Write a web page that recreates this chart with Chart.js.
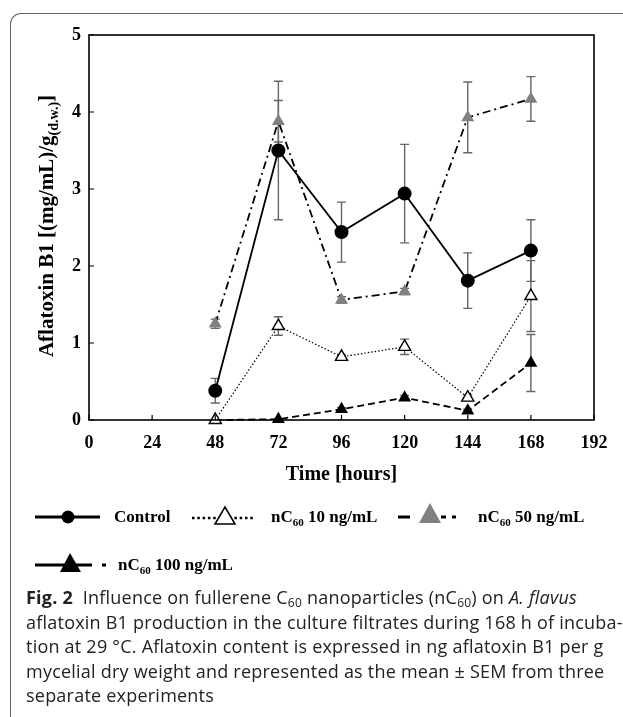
<!DOCTYPE html>
<html>
<head>
<meta charset="utf-8">
<script src="https://cdn.jsdelivr.net/npm/chart.js@4.4.1/dist/chart.umd.min.js"></script>
<style>
  html,body{margin:0;padding:0;background:#fff;width:623px;height:717px;overflow:hidden;position:relative;}
  #frame{position:absolute;left:10px;top:13px;width:700px;height:800px;border-top:1.3px solid #666;border-left:1.3px solid #666;border-top-left-radius:11px;}
  #wrap{position:absolute;left:0;top:0;width:623px;height:500px;}
  .leg{position:absolute;font-family:"Liberation Serif",serif;font-weight:bold;font-size:17px;color:#000;white-space:nowrap;line-height:1;}
  .leg sub{font-size:11px;vertical-align:-4px;line-height:0;}
  #legsvg{position:absolute;left:0;top:0;}
  #cap{position:absolute;left:26px;top:585px;font-family:"Open Sans",sans-serif;font-size:18px;line-height:24.5px;color:#222;white-space:nowrap;}
  #cap div{height:24.5px;}
  #cap b{font-weight:bold;}
  #cap sub{font-size:12px;vertical-align:-3px;line-height:0;}
</style>
</head>
<body>
<div id="frame"></div>
<div id="wrap"><canvas id="c" width="623" height="500"></canvas></div>

<!-- legend -->
<svg id="legsvg" width="623" height="717">
  <line x1="35" y1="517" x2="100" y2="517" stroke="#000" stroke-width="3"/>
  <circle cx="68" cy="517" r="6.5" fill="#000"/>
  <line x1="192" y1="518" x2="255" y2="518" stroke="#000" stroke-width="2.5" stroke-dasharray="2.5,2.8"/>
  <polygon points="225,507 215,524 235,524" fill="#fff" stroke="#000" stroke-width="1.6"/>
  <line x1="398" y1="517" x2="410" y2="517" stroke="#000" stroke-width="3"/>
  <polygon points="430,503 419,523 441,523" fill="#808080"/>
  <line x1="441" y1="517" x2="446" y2="517" stroke="#000" stroke-width="3"/>
  <line x1="452" y1="517" x2="456" y2="517" stroke="#000" stroke-width="3"/>
  <line x1="35" y1="565" x2="92" y2="565" stroke="#000" stroke-width="3"/>
  <polygon points="70,553 60,572 81,572" fill="#000"/>
  <line x1="102" y1="565" x2="106" y2="565" stroke="#000" stroke-width="3"/>
</svg>
<div class="leg" style="left:114px;top:508px">Control</div>
<div class="leg" style="left:271px;top:508px">nC<sub>60</sub> 10 ng/mL</div>
<div class="leg" style="left:478px;top:508px">nC<sub>60</sub> 50 ng/mL</div>
<div class="leg" style="left:118px;top:556px">nC<sub>60</sub> 100 ng/mL</div>

<div id="cap">
<div><span id="l1"><b>Fig. 2</b>&nbsp; Influence on fullerene C<sub>60</sub> nanoparticles (nC<sub>60</sub>) on <i>A. flavus</i></span></div>
<div>aflatoxin B1 production in the culture filtrates during 168 h of incuba-</div>
<div>tion at 29 °C. Aflatoxin content is expressed in ng aflatoxin B1 per g</div>
<div>mycelial dry weight and represented as the mean ± SEM from three</div>
<div>separate experiments</div>
</div>

<script>
// ---- data ----
const hours = [48, 72, 96, 120, 144, 168];
const control = [0.38, 3.50, 2.44, 2.94, 1.81, 2.20];
const controlErr = [0.16, 0.90, 0.39, 0.64, 0.36, 0.40];
const nc10 = [0.00, 1.22, 0.82, 0.95, 0.29, 1.61];
const nc10Err = [0.00, 0.12, 0.03, 0.10, 0.04, 0.46];
const nc50 = [1.25, 3.88, 1.56, 1.67, 3.93, 4.17];
const nc50Err = [0.06, 0.27, 0.04, 0.04, 0.46, 0.29];
const nc100 = [0.00, 0.01, 0.14, 0.29, 0.12, 0.74];
const nc100Err = [0.00, 0.00, 0.02, 0.03, 0.02, 0.37];
const xTicks = [0, 24, 48, 72, 96, 120, 144, 168, 192];
const yTicks = [0, 1, 2, 3, 4, 5];

// fit caption first line width
(function(){
  const l1 = document.getElementById('l1');
  const w = l1.getBoundingClientRect().width;
  const target = 551;
  const n = l1.textContent.length;
  const ls = (target - w) / n;
  document.getElementById('cap').style.letterSpacing = ls.toFixed(3) + 'px';
})();

const pts = (ys) => hours.map((h, i) => ({x: h, y: ys[i]}));
const SERIF = '"Liberation Serif", "Times New Roman", serif';

const errorBars = {
  id: 'errorBars',
  beforeDatasetsDraw(chart) {
    const {ctx, scales: {x, y}} = chart;
    ctx.save();
    ctx.strokeStyle = '#666';
    ctx.lineWidth = 1.4;
    chart.data.datasets.forEach(ds => {
      ds.err.forEach((e, i) => {
        if (!e) return;
        const px = x.getPixelForValue(ds.data[i].x);
        const top = y.getPixelForValue(ds.data[i].y + e);
        const bot = y.getPixelForValue(ds.data[i].y - e);
        ctx.beginPath();
        ctx.moveTo(px, top); ctx.lineTo(px, bot);
        ctx.moveTo(px - 4.5, top); ctx.lineTo(px + 4.5, top);
        ctx.moveTo(px - 4.5, bot); ctx.lineTo(px + 4.5, bot);
        ctx.stroke();
      });
    });
    ctx.restore();
  }
};

const frameAndTitles = {
  id: 'frameAndTitles',
  afterDraw(chart) {
    const {ctx, chartArea: a, scales: {x, y}} = chart;
    ctx.save();
    ctx.strokeStyle = '#000';
    ctx.lineWidth = 1.6;
    ctx.strokeRect(a.left, a.top, a.right - a.left, a.bottom - a.top);
    ctx.lineWidth = 1.2;
    ctx.beginPath();
    xTicks.forEach(t => { const px = x.getPixelForValue(t); ctx.moveTo(px, a.bottom); ctx.lineTo(px, a.bottom - 5); });
    yTicks.forEach(t => { const py = y.getPixelForValue(t); ctx.moveTo(a.left, py); ctx.lineTo(a.left + 5, py); });
    ctx.stroke();
    // x title
    ctx.fillStyle = '#000';
    ctx.font = 'bold 20px ' + SERIF;
    ctx.textAlign = 'center';
    ctx.textBaseline = 'middle';
    ctx.fillText('Time [hours]', (a.left + a.right) / 2, 475);
    // y title with subscript
    const main = 'Aflatoxin B1 [(mg/mL)/g';
    const sub = '(d.w.)';
    const end = ']';
    const FM = 'bold 21px ' + SERIF, FS = 'bold 14px ' + SERIF;
    ctx.font = FM;
    const w1 = ctx.measureText(main).width;
    const w3 = ctx.measureText(end).width;
    ctx.font = FS;
    const w2 = ctx.measureText(sub).width;
    const total = w1 + w2 + w3;
    ctx.translate(46, 226);
    ctx.rotate(-Math.PI / 2);
    ctx.textAlign = 'left';
    ctx.textBaseline = 'alphabetic';
    ctx.font = FM;
    ctx.fillText(main, -total / 2, 7);
    ctx.font = FS;
    ctx.fillText(sub, -total / 2 + w1, 12);
    ctx.font = FM;
    ctx.fillText(end, -total / 2 + w1 + w2, 7);
    ctx.restore();
  }
};

new Chart(document.getElementById('c'), {
  type: 'line',
  data: {
    datasets: [
      {label: 'Control', data: pts(control), err: controlErr, borderColor: '#000', borderWidth: 1.8,
       pointStyle: 'circle', pointRadius: 7, pointBackgroundColor: '#000', pointBorderColor: '#000', pointBorderWidth: 0},
      {label: 'nC60 10 ng/mL', data: pts(nc10), err: nc10Err, borderColor: '#000', borderWidth: 1.2, borderDash: [1.5, 2],
       pointStyle: 'triangle', pointRadius: 7, pointBackgroundColor: '#fff', pointBorderColor: '#000', pointBorderWidth: 1.4},
      {label: 'nC60 50 ng/mL', data: pts(nc50), err: nc50Err, borderColor: '#000', borderWidth: 1.8, borderDash: [8, 4, 2, 4],
       pointStyle: 'triangle', pointRadius: 7.5, pointBackgroundColor: '#808080', pointBorderColor: '#808080', pointBorderWidth: 0},
      {label: 'nC60 100 ng/mL', data: pts(nc100), err: nc100Err, borderColor: '#000', borderWidth: 1.8, borderDash: [7, 4],
       pointStyle: 'triangle', pointRadius: 7.5, pointBackgroundColor: '#000', pointBorderColor: '#000', pointBorderWidth: 0}
    ].map(d => Object.assign({fill: false, tension: 0, clip: false}, d))
  },
  options: {
    responsive: false,
    animation: false,
    devicePixelRatio: 1,
    layout: {padding: {left: 0, top: 35, right: 29, bottom: 0}},
    plugins: {legend: {display: false}, tooltip: {enabled: false}},
    scales: {
      x: {
        type: 'linear', min: 0, max: 192,
        afterBuildTicks: s => { s.ticks = xTicks.map(v => ({value: v})); },
        afterFit: s => { s.height = 80; },
        grid: {display: false, drawTicks: false},
        border: {display: false},
        ticks: {padding: 13, color: '#000', font: {family: SERIF, weight: 'bold', size: 18}, maxRotation: 0, autoSkip: false}
      },
      y: {
        type: 'linear', min: 0, max: 5,
        afterBuildTicks: s => { s.ticks = yTicks.map(v => ({value: v})); },
        afterFit: s => { s.width = 89; },
        grid: {display: false, drawTicks: false},
        border: {display: false},
        ticks: {padding: 8, color: '#000', font: {family: SERIF, weight: 'bold', size: 18}}
      }
    }
  },
  plugins: [errorBars, frameAndTitles]
});
</script>
</body>
</html>
